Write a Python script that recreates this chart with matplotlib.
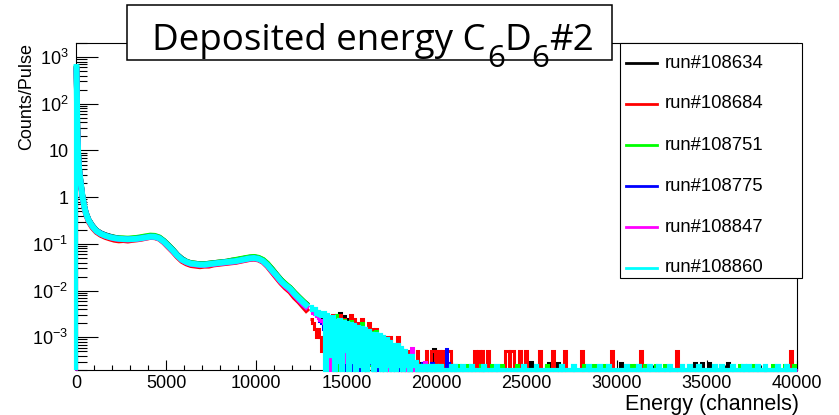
import numpy as np
import matplotlib
matplotlib.use("Agg")
import matplotlib.pyplot as plt
from matplotlib.ticker import LogLocator, NullFormatter, MultipleLocator, FixedLocator, FixedFormatter
from matplotlib.patches import Rectangle
from matplotlib.lines import Line2D

plt.rcParams['font.family'] = ['Liberation Sans', 'DejaVu Sans']
plt.rcParams['mathtext.fontset'] = 'custom'
plt.rcParams['mathtext.rm'] = 'Liberation Sans'
plt.rcParams['mathtext.it'] = 'Liberation Sans:italic'
plt.rcParams['mathtext.bf'] = 'Liberation Sans:bold'

# ---------------- data ----------------
runs = ['run#108634', 'run#108684', 'run#108751', 'run#108775', 'run#108847', 'run#108860']
colors = ['#000000', '#ff0000', '#00ff00', '#0000ff', '#ff00ff', '#00ffff']

y_ticks = [1e-3, 1e-2, 1e-1, 1, 10, 100, 1000]
y_tick_labels = [r'$10^{-3}$', r'$10^{-2}$', r'$10^{-1}$', '1', '10', r'$10^{2}$', r'$10^{3}$']
x_ticks = [0, 5000, 10000, 15000, 20000, 25000, 30000, 35000, 40000]
y_min, y_max = 2e-4, 2000
x_max = 40000

# body bins (channels) 0 .. 13000
body_edges = [0, 50, 100, 150, 200, 300, 400, 500, 600, 800] + list(range(1000, 13001, 250))

body_black = [650, 32, 8.5, 4.2, 2.3, 1.15, 0.68, 0.47, 0.33, 0.25,
              0.195, 0.17, 0.155, 0.145, 0.137, 0.131, 0.13, 0.128, 0.13, 0.133,
              0.137, 0.141, 0.146, 0.145, 0.136, 0.116, 0.094, 0.075, 0.058, 0.048,
              0.042, 0.039, 0.038, 0.037, 0.037, 0.038, 0.039, 0.040, 0.041, 0.042,
              0.044, 0.045, 0.047, 0.049, 0.051, 0.052, 0.050, 0.045, 0.037, 0.029,
              0.022, 0.017, 0.0135, 0.0115, 0.009, 0.0072, 0.0058, 0.0048]
body_red = [620, 29, 7.6, 3.8, 2.1, 1.05, 0.62, 0.43, 0.30, 0.225,
            0.18, 0.155, 0.14, 0.13, 0.122, 0.118, 0.12, 0.117, 0.121, 0.124,
            0.128, 0.134, 0.14, 0.138, 0.128, 0.107, 0.085, 0.068, 0.053, 0.043,
            0.038, 0.035, 0.034, 0.033, 0.034, 0.034, 0.036, 0.037, 0.038, 0.039,
            0.040, 0.041, 0.043, 0.045, 0.047, 0.048, 0.046, 0.041, 0.033, 0.025,
            0.019, 0.0145, 0.0115, 0.0095, 0.0072, 0.0058, 0.0045, 0.0035]
body_green = [640, 31, 8.3, 4.1, 2.25, 1.12, 0.66, 0.46, 0.325, 0.245,
              0.195, 0.168, 0.153, 0.143, 0.137, 0.133, 0.132, 0.131, 0.133, 0.136,
              0.141, 0.147, 0.152, 0.15, 0.139, 0.117, 0.094, 0.075, 0.058, 0.048,
              0.042, 0.039, 0.038, 0.037, 0.037, 0.038, 0.039, 0.040, 0.041, 0.042,
              0.044, 0.046, 0.048, 0.050, 0.052, 0.053, 0.051, 0.046, 0.038, 0.029,
              0.022, 0.017, 0.014, 0.0115, 0.009, 0.0072, 0.0058, 0.0047]
body_blue = [600, 30, 8.1, 4.0, 2.2, 1.1, 0.66, 0.46, 0.325, 0.243,
             0.193, 0.168, 0.152, 0.142, 0.134, 0.13, 0.128, 0.127, 0.128, 0.13,
             0.134, 0.139, 0.144, 0.143, 0.133, 0.113, 0.091, 0.073, 0.057, 0.047,
             0.041, 0.038, 0.037, 0.036, 0.036, 0.037, 0.038, 0.039, 0.040, 0.041,
             0.042, 0.043, 0.045, 0.047, 0.049, 0.050, 0.048, 0.043, 0.035, 0.027,
             0.021, 0.016, 0.0128, 0.0105, 0.0082, 0.0064, 0.005, 0.0042]
body_magenta = [610, 29, 7.9, 3.9, 2.15, 1.08, 0.64, 0.44, 0.315, 0.237,
                0.188, 0.163, 0.148, 0.138, 0.131, 0.127, 0.125, 0.124, 0.125, 0.127,
                0.131, 0.136, 0.141, 0.14, 0.13, 0.11, 0.088, 0.07, 0.055, 0.045,
                0.04, 0.037, 0.036, 0.035, 0.035, 0.036, 0.037, 0.038, 0.039, 0.040,
                0.041, 0.042, 0.044, 0.046, 0.048, 0.049, 0.047, 0.042, 0.034, 0.026,
                0.02, 0.0152, 0.0123, 0.0102, 0.008, 0.0063, 0.005, 0.0041]
body_cyan = [700, 30, 8, 4, 2.2, 1.1, 0.65, 0.45, 0.32, 0.24,
             0.19, 0.165, 0.15, 0.14, 0.133, 0.129, 0.127, 0.126, 0.127, 0.129,
             0.133, 0.138, 0.143, 0.142, 0.132, 0.112, 0.09, 0.072, 0.056, 0.046,
             0.041, 0.038, 0.037, 0.036, 0.036, 0.037, 0.038, 0.039, 0.040, 0.041,
             0.042, 0.043, 0.045, 0.047, 0.049, 0.050, 0.048, 0.043, 0.035, 0.027,
             0.021, 0.016, 0.013, 0.011, 0.0085, 0.0068, 0.0055, 0.0045]

# tail, 100-channel bins from 13000 to 20000, values in units of 1e-4 counts/pulse
tail_start, tail_dense_end, tail_bin = 13000, 20000, 100
tail_black = [40, 35, 36, 30, 28, 30, 25, 28, 22, 25,
              25, 2.8, 28, 0, 30, 5.6, 33, 0, 28, 2.8,
              25, 0, 22, 2.8, 20, 0, 18, 5.6, 17, 0,
              14, 0, 14, 2.8, 12, 0, 11, 2.8, 10, 0,
              9, 0, 8, 2.8, 7, 0, 6, 2.8, 5.6, 0,
              5.6, 0, 2.8, 0, 2.8, 0, 2.8, 0, 2.8, 0,
              0, 2.8, 0, 0, 2.8, 0, 0, 0, 5.6, 0]
tail_red = [25, 20, 15, 10, 15, 10, 5, 10, 0, 5,
            20, 0, 30, 5, 20, 0, 30, 5, 25, 0,
            20, 5, 30, 0, 25, 5, 20, 0, 25, 5,
            15, 0, 20, 5, 15, 0, 15, 0, 10, 5,
            10, 0, 10, 0, 10, 5, 5, 0, 10, 0,
            5, 0, 5, 0, 5, 0, 5, 0, 0, 5,
            0, 0, 0, 0, 5, 0, 0, 5, 5, 0]
tail_green = [44, 40, 38, 35, 33, 30, 30, 28, 26, 25,
              26, 2.6, 25, 5.2, 30, 0, 24, 2.6, 23, 0,
              21, 2.6, 22, 0, 18, 5.2, 17, 0, 20, 2.6,
              16, 0, 14, 2.6, 13, 0, 14, 2.6, 11, 0,
              9, 2.6, 8, 0, 7, 2.6, 7, 0, 6, 2.6,
              5.2, 0, 5.2, 2.6, 2.6, 0, 2.6, 0, 2.6, 0,
              2.6, 0, 0, 2.6, 0, 0, 2.6, 0, 2.6, 0]
tail_blue = [42, 36, 33, 30, 26, 22, 20, 15, 8, 5.6,
             20, 2.8, 22, 0, 20, 5.6, 18, 2.8, 16, 0,
             14, 2.8, 13, 0, 12, 2.8, 11, 0, 10, 2.8,
             8.4, 0, 8.4, 2.8, 5.6, 0, 5.6, 0, 5.6, 2.8,
             5.6, 0, 2.8, 0, 2.8, 2.8, 2.8, 0, 2.8, 0,
             2.8, 0, 0, 2.8, 0, 0, 2.8, 0, 0, 0,
             0, 0, 2.8, 0, 0, 0, 0, 2.8, 0, 0]
tail_magenta = [40, 34, 32, 28, 26, 24, 22, 20, 12, 9,
                18, 0, 20, 3, 17, 9, 6, 0, 15, 3,
                14, 3, 12, 6, 11, 0, 10, 9, 9, 0,
                9, 0, 6, 3, 6, 0, 6, 3, 3, 0,
                6, 3, 3, 0, 6, 0, 3, 0, 3, 3,
                3, 0, 3, 0, 3, 0, 6, 0, 0, 0,
                0, 0, 0, 3, 0, 0, 0, 0, 0, 0]
tail_cyan = [45, 38, 40, 32, 35, 30, 28, 33, 0, 30,
             25, 4, 27, 0, 22, 3, 24, 0, 21, 5,
             20, 0, 19, 3, 18, 0, 17, 2.4, 16, 0,
             15, 0, 14, 3, 12, 0, 12, 2.4, 11, 0,
             10, 0, 9, 2.4, 8, 0, 7, 0, 7, 2.4,
             6, 0, 5, 2.4, 4, 0, 4, 2.4, 3, 0,
             2.4, 0, 2.4, 0, 2.4, 2.4, 0, 2.4, 0, 2.4]

# isolated counts above 20000 channels: bin start (channels) and value (1e-4 counts/pulse)
spk_black_e = [20600, 20700, 25200, 26200, 26700, 30200, 34300, 34700, 35100, 36100]
spk_black_v = [2.8, 2.8, 3.0, 2.8, 2.8, 2.8, 2.8, 2.8, 2.8, 2.8]
spk_red_e = [20000, 20100, 20300, 20500, 20600, 20700, 22100, 22300, 22500, 22800,
             23800, 23900, 24100, 24200, 24600, 24900, 25700, 26400, 27100, 28000,
             29700, 31300, 33300, 39600]
spk_red_v = [5, 5, 5, 5, 5, 5, 5, 5, 5, 5,
             5, 5, 5, 5, 5, 5, 5, 5, 5, 5,
             5, 5, 5, 5]
spk_green_e = [20900, 21200, 21700, 22400, 23000, 23600, 24400, 26100, 28100, 28700,
               29300, 30800, 31000, 31500, 32100, 32600, 36800, 37500, 38600, 39300, 39800]
spk_green_v = [2.6, 2.6, 2.6, 2.6, 2.6, 2.6, 2.6, 2.6, 2.6, 2.6,
               2.6, 2.6, 2.6, 2.6, 2.6, 2.6, 2.6, 2.6, 2.6, 2.6, 2.6]
spk_blue_e = [20500, 20600]
spk_blue_v = [5.6, 2.8]
spk_magenta_e = []
spk_magenta_v = []
spk_cyan_e = [20200, 20800, 21000, 21400, 21900, 22600, 23300, 24800, 25500, 26900,
              27600, 28400, 29000, 29500, 30500, 31200, 31800, 32300, 32900, 33600,
              34000, 34500, 35400, 35800, 36400, 37000, 37300, 37800, 38200, 38900, 39400]
spk_cyan_v = [2.4] * 31

bodies = [body_black, body_red, body_green, body_blue, body_magenta, body_cyan]
tails = [tail_black, tail_red, tail_green, tail_blue, tail_magenta, tail_cyan]
spikes = [(spk_black_e, spk_black_v), (spk_red_e, spk_red_v), (spk_green_e, spk_green_v),
          (spk_blue_e, spk_blue_v), (spk_magenta_e, spk_magenta_v), (spk_cyan_e, spk_cyan_v)]

# ---------------- figure ----------------
W, H = 839, 415
fig = plt.figure(figsize=(W / 100, H / 100), dpi=100, facecolor='white')
ax = fig.add_axes([76 / W, 1 - 370 / H, (797 - 76) / W, (370 - 43) / H])

b_edges = np.array(body_edges, float)
b_centers = 0.5 * (b_edges[:-1] + b_edges[1:])
tail_edges = np.arange(tail_start, x_max + 1, tail_bin).astype(float)
n_sparse = (x_max - tail_dense_end) // tail_bin

body_lw = [4.0, 4.0, 4.0, 4.0, 4.0, 4.3]
tail_lw = [2.2, 2.2, 2.2, 2.2, 2.2, 3.0]
for body, tail, (se, sv), col, blw, tlw in zip(bodies, tails, spikes, colors, body_lw, tail_lw):
    bvals = np.array(body, float)
    # rising edge of the first bin from the frame bottom
    ax.vlines(b_edges[0], y_min, bvals[0], color=col, lw=tlw, zorder=3, clip_on=False)
    ax.plot(b_centers, bvals, color=col, lw=blw, zorder=3, clip_on=False,
            solid_joinstyle='round', solid_capstyle='butt')
    sparse = np.zeros(n_sparse)
    if len(se):
        sparse[(np.array(se) - tail_dense_end) // tail_bin] = sv
    tvals = np.concatenate([np.array(tail, float), sparse]) * 1e-4
    tvals = np.where(tvals > 0, tvals, y_min)
    ax.stairs(tvals, tail_edges, baseline=None, color=col, lw=tlw, zorder=3, clip_on=False)

ax.set_yscale('log')
ax.set_ylim(y_min, y_max)
ax.set_xlim(0, x_max)
ax.yaxis.set_major_locator(FixedLocator(y_ticks))
ax.yaxis.set_major_formatter(FixedFormatter(y_tick_labels))
ax.yaxis.set_minor_locator(LogLocator(base=10, subs=np.arange(2, 10), numticks=30))
ax.yaxis.set_minor_formatter(NullFormatter())
ax.xaxis.set_major_locator(FixedLocator(x_ticks))
ax.xaxis.set_minor_locator(MultipleLocator(1000))

ax.tick_params(axis='y', which='major', direction='in', length=15.8, width=0.8,
               labelsize=13, pad=5.5, right=False)
ax.tick_params(axis='y', which='minor', direction='in', length=7.9, width=0.8, right=False)
ax.tick_params(axis='x', which='major', direction='in', length=7.2, width=0.8,
               labelsize=13, pad=3.5, top=False)
ax.tick_params(axis='x', which='minor', direction='in', length=3.6, width=0.8, top=False)
for s in ax.spines.values():
    s.set_linewidth(0.8)
    s.set_zorder(2)

# axis titles
fig.text(27 / W, 1 - 43 / H, 'Counts/Pulse', rotation=90, ha='center', va='top', fontsize=13)
fig.text(799 / W, 1 - 410 / H, 'Energy (channels)', ha='right', va='baseline', fontsize=15.5)

# legend box
fig.patches.append(Rectangle((620 / W, 1 - 278 / H), 182 / W, 235 / H, transform=fig.transFigure,
                             facecolor='white', edgecolor='black', lw=0.8, zorder=10))
for i, (lab, col) in enumerate(zip(runs, colors)):
    yy = 1 - (63 + 41 * i) / H
    fig.lines.append(Line2D([626 / W, 657 / W], [yy, yy], transform=fig.transFigure,
                            color=col, lw=2.0, zorder=11))
    fig.text(665 / W, yy, lab, ha='left', va='center', fontsize=13.3, zorder=11)

# title box
fig.patches.append(Rectangle((127 / W, 1 - 60 / H), 485 / W, 55 / H, transform=fig.transFigure,
                             facecolor='white', edgecolor='black', lw=1.1, zorder=10))
fig.canvas.draw()
renderer = fig.canvas.get_renderer()
# (text, size pt, baseline px from top, extra gap px after)
title_parts = [('Deposited energy C', 26.5, 50, 2), ('6', 22.5, 67, -1), ('D', 26.5, 50, 0),
               ('6', 22.5, 67, 0), ('#2', 26.5, 50, 0)]
xp = 152
for txt, size, base, gap in title_parts:
    t = fig.text(xp / W, 1 - base / H, txt, fontsize=size, family=['Open Sans', 'DejaVu Sans'],
                 ha='left', va='baseline', zorder=12)
    xp += t.get_window_extent(renderer).width + gap

fig.savefig('out.png', dpi=100, facecolor='white')
